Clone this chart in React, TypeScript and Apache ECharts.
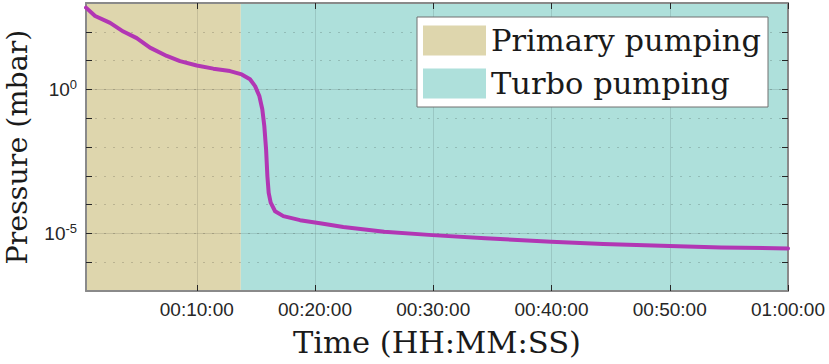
import React, { useEffect, useRef } from 'react';
import * as echarts from 'echarts';

// ---- data (time in minutes, pressure in mbar) ----
const timeMin = [
  0.63, 1.4, 2.67, 3.79, 4.92, 6.04, 7.46, 8.58, 10.0, 11.4, 12.81, 13.8, 14.5,
  14.93, 15.29, 15.54, 15.71, 15.86, 15.97, 16.08, 16.25, 16.62, 17.32, 18.73,
  20.42, 22.39, 25.85, 29.93, 34.4, 39.97, 44.38, 50.0, 54.35, 60.0,
];
const pressure = [
  692, 355, 204, 102, 60.3, 28.2, 14.5, 9.55, 6.76, 5.25, 4.32, 3.31, 2.24,
  1.3, 0.589, 0.204, 0.0537, 0.00832, 9.77e-4, 2.57e-4, 1.17e-4, 5.89e-5,
  3.98e-5, 2.88e-5, 2.24e-5, 1.66e-5, 1.15e-5, 8.71e-6, 6.76e-6, 5.13e-6,
  4.27e-6, 3.63e-6, 3.24e-6, 3.02e-6,
];
const phaseNames = ['Primary pumping', 'Turbo pumping'];
const phaseStart = [0.63, 13.72];
const phaseEnd = [13.72, 60];
const xRange = [0.63, 60];
const yRange = [1e-7, 1e3];
const xTicks = [10, 20, 30, 40, 50, 60];
const yDecadeTicks = [1e-6, 1e-5, 1e-4, 1e-3, 1e-2, 1e-1, 1, 10, 100];
const yLabelTicks = [1e-5, 1];

const phaseColors = ['#DED6AD', '#AEE0DB'];
const LINE_COLOR = '#B236B4';
const FRAME = '#8a8a8a';
const TICK = '#262626';
const SANS = '"Liberation Sans", Arial, sans-serif';
const SERIF = '"DejaVu Serif", serif';

const pad2 = (n: number) => String(n).padStart(2, '0');
const fmtTime = (v: number) => {
  const total = Math.round(v * 60);
  const h = Math.floor(total / 3600);
  const m = Math.floor((total % 3600) / 60);
  const s = total % 60;
  return `${pad2(h)}:${pad2(m)}:${pad2(s)}`;
};

export default function App() {
  const ref = useRef<HTMLDivElement>(null);
  useEffect(() => {
    if (!ref.current) return;
    const chart = echarts.init(ref.current, null, { renderer: 'svg' });
    const frameLine = { show: true, lineStyle: { color: FRAME, width: 2 } };
    const option: any = {
      animation: false,
      backgroundColor: '#ffffff',
      grid: {
        left: 86,
        right: 41,
        top: 3,
        bottom: 73,
        containLabel: false,
        outerBoundsMode: 'none',
      },
      legend: {
        data: phaseNames.map((n) => ({ name: n, icon: 'rect' })),
        orient: 'vertical',
        left: 417,
        top: 17,
        itemWidth: 63,
        itemHeight: 30,
        itemGap: 12,
        padding: [8, 7, 8, 6],
        backgroundColor: '#ffffff',
        borderColor: '#707070',
        borderWidth: 1,
        borderRadius: 0,
        selectedMode: false,
        z: 10,
        itemStyle: { borderWidth: 0 },
        textStyle: { fontFamily: SERIF, fontSize: 30.5, color: '#1a1a1a' },
      },
      xAxis: [
        {
          type: 'value',
          position: 'bottom',
          min: xRange[0],
          max: xRange[1],
          z: 2,
          axisLine: frameLine,
          axisTick: {
            show: true,
            inside: true,
            length: 6,
            customValues: xTicks,
            lineStyle: { color: TICK, width: 1 },
          },
          axisLabel: {
            customValues: xTicks,
            formatter: (v: number) => fmtTime(v),
            margin: 9,
            fontSize: 19,
            color: TICK,
            fontFamily: SANS,
          },
          splitLine: {
            show: true,
            lineStyle: { color: 'rgba(0,0,0,0.11)', width: 1 },
          },
          name: 'Time (HH:MM:SS)',
          nameLocation: 'middle',
          nameGap: 36,
          nameTextStyle: { fontFamily: SERIF, fontSize: 30.5, color: '#1a1a1a' },
        },
        {
          type: 'value',
          position: 'top',
          min: xRange[0],
          max: xRange[1],
          z: 2,
          axisLine: frameLine,
          axisTick: {
            show: true,
            inside: true,
            length: 6,
            customValues: xTicks,
            lineStyle: { color: TICK, width: 1 },
          },
          axisLabel: { show: false },
          splitLine: { show: false },
        },
      ],
      yAxis: [
        {
          type: 'log',
          logBase: 10,
          position: 'left',
          min: yRange[0],
          max: yRange[1],
          z: 2,
          axisLine: frameLine,
          axisTick: {
            show: true,
            inside: true,
            length: 6,
            customValues: yDecadeTicks,
            lineStyle: { color: TICK, width: 1 },
          },
          axisLabel: {
            customValues: yLabelTicks,
            margin: 9,
            formatter: (v: number) => `{b|10}{s|${Math.round(Math.log10(v))}}`,
            rich: {
              b: { fontSize: 19, fontFamily: SANS, color: TICK, lineHeight: 19 },
              s: {
                fontSize: 13,
                fontFamily: SANS,
                color: TICK,
                lineHeight: 13,
                padding: [0, 0, 10, 0],
              },
            },
          },
          splitLine: {
            show: true,
            lineStyle: { color: 'rgba(0,0,0,0.16)', width: 1, type: [2, 7] },
          },
          name: 'Pressure (mbar)',
          nameLocation: 'middle',
          nameGap: 54,
          nameTextStyle: { fontFamily: SERIF, fontSize: 28.5, color: '#1a1a1a' },
        },
        {
          type: 'log',
          logBase: 10,
          position: 'left',
          min: yRange[0],
          max: yRange[1],
          z: 2,
          axisLine: { show: false },
          axisTick: { show: false, customValues: yLabelTicks },
          axisLabel: { show: false, customValues: yLabelTicks },
          splitLine: {
            show: true,
            lineStyle: { color: 'rgba(0,0,0,0.11)', width: 1 },
          },
        },
        {
          type: 'log',
          logBase: 10,
          position: 'right',
          min: yRange[0],
          max: yRange[1],
          z: 2,
          axisLine: frameLine,
          axisTick: {
            show: true,
            inside: true,
            length: 6,
            customValues: yDecadeTicks,
            lineStyle: { color: TICK, width: 1 },
          },
          axisLabel: { show: false },
          splitLine: { show: false },
        },
      ],
      series: [
        ...phaseNames.map((name, i) => ({
          type: 'line',
          name,
          data: [],
          color: phaseColors[i],
          itemStyle: { color: phaseColors[i] },
          xAxisIndex: 0,
          yAxisIndex: 0,
          z: 1,
          markArea: {
            silent: true,
            itemStyle: { color: phaseColors[i], opacity: 1, borderWidth: 0 },
            data: [[{ xAxis: phaseStart[i] }, { xAxis: phaseEnd[i] }]],
          },
        })),
        {
          type: 'line',
          name: 'Pressure',
          data: timeMin.map((t, i) => [t, pressure[i]]),
          xAxisIndex: 0,
          yAxisIndex: 0,
          showSymbol: false,
          symbol: 'none',
          z: 3,
          lineStyle: { color: LINE_COLOR, width: 4, join: 'round', cap: 'round' },
        },
      ],
    };
    chart.setOption(option);
    return () => chart.dispose();
  }, []);
  return (
    <div
      ref={ref}
      style={{ position: 'fixed', left: 0, top: 0, width: 829, height: 364 }}
    />
  );
}
